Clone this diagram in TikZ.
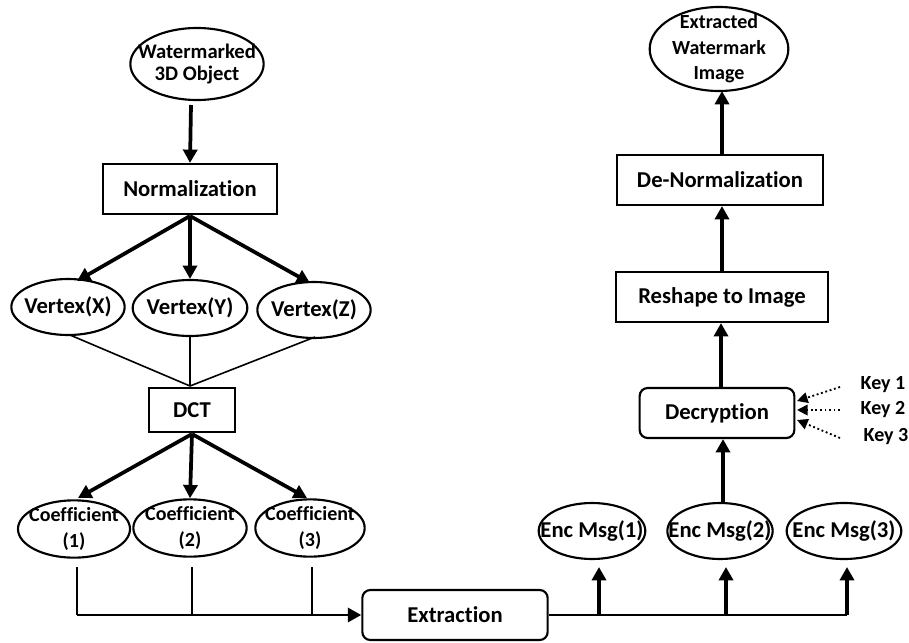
\documentclass[tikz,border=0pt]{standalone}
\usepackage{fontspec}
\setmainfont{Carlito}[Ligatures=NoCommon]
\usetikzlibrary{arrows.meta,shapes.geometric}
\begin{document}
\begin{tikzpicture}[x=0.75pt,y=-0.75pt,
  every node/.style={font=\bfseries},
  ell/.style={draw,ellipse,line width=1.6pt,inner xsep=-25pt,inner ysep=-12pt,align=center},
  sqbox/.style={draw,rectangle,line width=1.6pt,inner sep=0pt},
  rbox/.style={draw,rectangle,rounded corners=6pt,line width=1.6pt,inner sep=0pt},
  fs/.style={font=\fontsize{17}{20}\bfseries\selectfont},
  fm/.style={font=\fontsize{15.5}{17}\bfseries\selectfont},
  fc/.style={font=\fontsize{15}{19}\bfseries\selectfont},
  fk/.style={font=\fontsize{15}{17}\bfseries\selectfont},
  big/.style={line width=2.8pt,-{Triangle[length=10pt,width=10.5pt]}},
  thin/.style={line width=1.2pt},
  mid/.style={line width=2.2pt},
  dots/.style={line width=1.4pt,dotted,-{Triangle[length=8pt,width=8pt]}}
]
\useasboundingbox (0,0) rectangle (909,642);
% left column
\node[ell,fm,minimum width=100pt,minimum height=54pt] (wm) at (197,64) {Watermarked\\3D Object};
\node[sqbox,fs,minimum width=130pt,minimum height=37.5pt] (norm) at (190,189) {Normalization};
\node[ell,fs,minimum width=85pt,minimum height=42pt] (vx) at (68,307) {Vertex(X)};
\node[ell,fs,minimum width=86pt,minimum height=42pt] (vy) at (190,308) {Vertex(Y)};
\node[ell,fs,minimum width=85pt,minimum height=42pt] (vz) at (314,310) {Vertex(Z)};
\node[sqbox,fs,minimum width=64pt,minimum height=33pt] (dct) at (192,410) {DCT};
\node[ell,fc,minimum width=84pt,minimum height=43pt] (c1) at (74,529) {Coefficient\\(1)};
\node[ell,fc,minimum width=85pt,minimum height=43pt] (c2) at (190,528) {Coefficient\\(2)};
\node[ell,fc,minimum width=82pt,minimum height=43pt] (c3) at (310,528) {Coefficient\\(3)};
\node[rbox,fs,minimum width=139pt,minimum height=37.5pt] (ext) at (455,615) {Extraction};
% right column
\node[ell,fs,minimum width=80pt,minimum height=42pt] (e1) at (592,531) {Enc Msg(1)};
\node[ell,fs,minimum width=79pt,minimum height=42pt] (e2) at (720,531) {Enc Msg(2)};
\node[ell,fs,minimum width=86pt,minimum height=42pt] (e3) at (844,531) {Enc Msg(3)};
\node[rbox,fs,minimum width=116pt,minimum height=37.5pt] (dec) at (717,413) {Decryption};
\node[sqbox,fs,minimum width=159pt,minimum height=37.5pt] (resh) at (722,297) {Reshape to Image};
\node[sqbox,fs,minimum width=154pt,minimum height=37.5pt] (denorm) at (720,180) {De-Normalization};
\node[ell,fc,minimum width=104pt,minimum height=63pt] (ewi) at (719,49) {Extracted\\Watermark\\Image};
\node[fk] (k1) at (883,385) {Key 1};
\node[fk] (k2) at (883,410) {Key 2};
\node[fk] (k3) at (886,437) {Key 3};
% connectors
\coordinate (wb) at (191,105);
\draw[big] (wb) -- (norm.north);
\coordinate (nb) at (190,216);
\draw[big] (nb) -- (77,281);
\draw[big] (nb) -- (vy.north);
\draw[big] (nb) -- (310,283);
\coordinate (dt) at (190,386);
\draw[thin] (70,335) -- (dt);
\draw[thin] (vy.south) -- (dt);
\draw[thin] (315,337) -- (dt);
\coordinate (db) at (192,434);
\draw[big] (db) -- (78,498);
\draw[big] (db) -- (c2.north);
\draw[big] (db) -- (307,498);
\coordinate (j1) at (77,615);
\coordinate (j2) at (192,615);
\coordinate (j3) at (312,615);
\draw[mid] (77,567) -- (j1);
\draw[mid] (192,567) -- (j2);
\draw[mid] (312,567) -- (j3);
\draw[mid,-{Triangle[length=10pt,width=10.5pt]}] (j1) -- (ext.west);
\coordinate (r1) at (599,615);
\coordinate (r2) at (726,615);
\coordinate (r3) at (847,615);
\draw[mid] (ext.east) -- (r3);
\draw[big] (r1) -- (599,567);
\draw[big] (r2) -- (726,567);
\draw[big] (r3) -- (847,567);
\coordinate (e2t) at (723,503);
\draw[big] (e2t) -- (e2t |- dec.south);
\coordinate (dect) at (721,388);
\draw[big] (dect) -- (dect |- resh.south);
\coordinate (rest) at (722,272);
\draw[big] (rest) -- (rest |- denorm.south);
\coordinate (dnt) at (722,155);
\draw[big] (dnt) -- (722,91);
\draw[dots] (840,387) -- (797,401);
\draw[dots] (840,410) -- (797,410);
\draw[dots] (840,438) -- (797,420);
\end{tikzpicture}
\end{document}
